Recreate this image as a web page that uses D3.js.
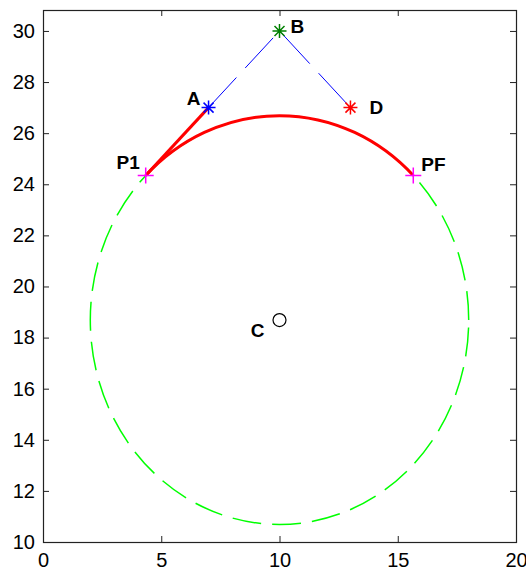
<!DOCTYPE html>
<html>
<head>
<meta charset="utf-8">
<script src="https://cdn.jsdelivr.net/npm/d3@7"></script>
<style>
  html, body { margin: 0; padding: 0; background: #fff; }
  svg { display: block; font-family: "Liberation Sans", Arial, sans-serif; }
</style>
</head>
<body>
<div id="chart"></div>
<script>
// points of the construction
const pointNames = ["A", "B", "D", "P1", "PF", "C"];
const pointX = [7, 10, 13, 4.343, 15.657, 10];
const pointY = [27, 30, 27, 24.343, 24.343, 18.686];
const circleRadius = 8;

const xTicks = [0, 5, 10, 15, 20];
const yTicks = [10, 12, 14, 16, 18, 20, 22, 24, 26, 28, 30];

(() => {
  const width = 526, height = 570;
  const margin = { top: 10, right: 10, bottom: 28, left: 43 };

  const pt = {};
  pointNames.forEach((n, i) => { pt[n] = { x: pointX[i], y: pointY[i] }; });

  const svg = d3.select("#chart").append("svg")
    .attr("width", width)
    .attr("height", height);

  const x = d3.scaleLinear().domain([0, 20]).range([margin.left, width - margin.right]);
  const y = d3.scaleLinear().domain([10, 30.82]).range([height - margin.bottom, margin.top]);

  const axisColor = "#222";
  const styleAxis = s => {
    s.select(".domain").remove();
    s.selectAll("line").attr("stroke", axisColor);
    s.selectAll("text").attr("fill", "#000").style("font-size", "20px");
  };

  // axes (matlab style, ticks inward)
  svg.append("g")
    .attr("transform", `translate(0,${y.range()[0]})`)
    .call(d3.axisBottom(x).tickValues(xTicks).tickSizeInner(-6).tickSizeOuter(0).tickPadding(11))
    .call(styleAxis);
  svg.append("g")
    .attr("transform", `translate(0,${y.range()[1]})`)
    .call(d3.axisTop(x).tickValues(xTicks).tickSizeInner(-6).tickSizeOuter(0).tickFormat(""))
    .call(styleAxis);
  svg.append("g")
    .attr("transform", `translate(${x.range()[0]},0)`)
    .call(d3.axisLeft(y).tickValues(yTicks).tickSizeInner(-6).tickSizeOuter(0).tickPadding(8))
    .call(styleAxis);
  svg.append("g")
    .attr("transform", `translate(${x.range()[1]},0)`)
    .call(d3.axisRight(y).tickValues(yTicks).tickSizeInner(-6).tickSizeOuter(0).tickFormat(""))
    .call(styleAxis);

  svg.append("rect")
    .attr("x", x.range()[0] + 0.5)
    .attr("y", y.range()[1] + 0.5)
    .attr("width", x.range()[1] - x.range()[0])
    .attr("height", y.range()[0] - y.range()[1])
    .attr("fill", "none")
    .attr("stroke", axisColor)
    .attr("stroke-width", 1.2);

  const rx = x(circleRadius) - x(0);
  const ry = y(0) - y(circleRadius);
  const cx = x(pt.C.x), cy = y(pt.C.y);

  // green dashed circle
  svg.append("path")
    .attr("d", `M${cx + rx},${cy} A${rx},${ry} 0 1 0 ${cx - rx},${cy} A${rx},${ry} 0 1 0 ${cx + rx},${cy}`)
    .attr("fill", "none")
    .attr("stroke", "#00ff00")
    .attr("stroke-width", 1.5)
    .attr("stroke-dasharray", "29,11");

  // blue dashed A-B-D
  svg.append("path")
    .attr("d", d3.line().x(d => x(d.x)).y(d => y(d.y))([pt.A, pt.B, pt.D]))
    .attr("fill", "none")
    .attr("stroke", "#0000ff")
    .attr("stroke-width", 1)
    .attr("stroke-dasharray", "41,13");

  // red tangent P1-A
  svg.append("path")
    .attr("d", d3.line().x(d => x(d.x)).y(d => y(d.y))([pt.P1, pt.A]))
    .attr("fill", "none")
    .attr("stroke", "#ff0000")
    .attr("stroke-width", 3);

  // red arc P1 -> PF
  svg.append("path")
    .attr("d", `M${x(pt.P1.x)},${y(pt.P1.y)} A${rx},${ry} 0 0 1 ${x(pt.PF.x)},${y(pt.PF.y)}`)
    .attr("fill", "none")
    .attr("stroke", "#ff0000")
    .attr("stroke-width", 3);

  // markers
  const star = "M-7,0H7M0,-7V7M-5,-5L5,5M-5,5L5,-5";
  const plus = "M-8,0H8M0,-8V8";
  const markers = [
    { n: "A", d: star, c: "#0000ff" },
    { n: "B", d: star, c: "#008000" },
    { n: "D", d: star, c: "#ff0000" },
    { n: "P1", d: plus, c: "#ff00ff" },
    { n: "PF", d: plus, c: "#ff00ff" },
  ];
  svg.selectAll("path.mk")
    .data(markers)
    .enter()
    .append("path")
    .attr("class", "mk")
    .attr("transform", d => `translate(${x(pt[d.n].x)},${y(pt[d.n].y)})`)
    .attr("d", d => d.d)
    .attr("fill", "none")
    .attr("stroke", d => d.c)
    .attr("stroke-width", 1.5);

  svg.append("circle")
    .attr("cx", cx)
    .attr("cy", cy)
    .attr("r", 6.5)
    .attr("fill", "none")
    .attr("stroke", "#000")
    .attr("stroke-width", 1.2);

  // labels
  const labelPos = {
    A: { dx: -8, dy: -3, anchor: "end" },
    B: { dx: 11, dy: 2, anchor: "start" },
    D: { dx: 19, dy: 6, anchor: "start" },
    P1: { dx: -6, dy: -7, anchor: "end" },
    PF: { dx: 8, dy: -5, anchor: "start" },
    C: { dx: -15, dy: 17, anchor: "end" },
  };
  svg.selectAll("text.lbl")
    .data(pointNames)
    .enter()
    .append("text")
    .attr("class", "lbl")
    .attr("x", n => x(pt[n].x) + labelPos[n].dx)
    .attr("y", n => y(pt[n].y) + labelPos[n].dy)
    .attr("text-anchor", n => labelPos[n].anchor)
    .attr("font-weight", "bold")
    .style("font-size", "19px")
    .attr("fill", "#000")
    .text(n => n);
})();
</script>
</body>
</html>
